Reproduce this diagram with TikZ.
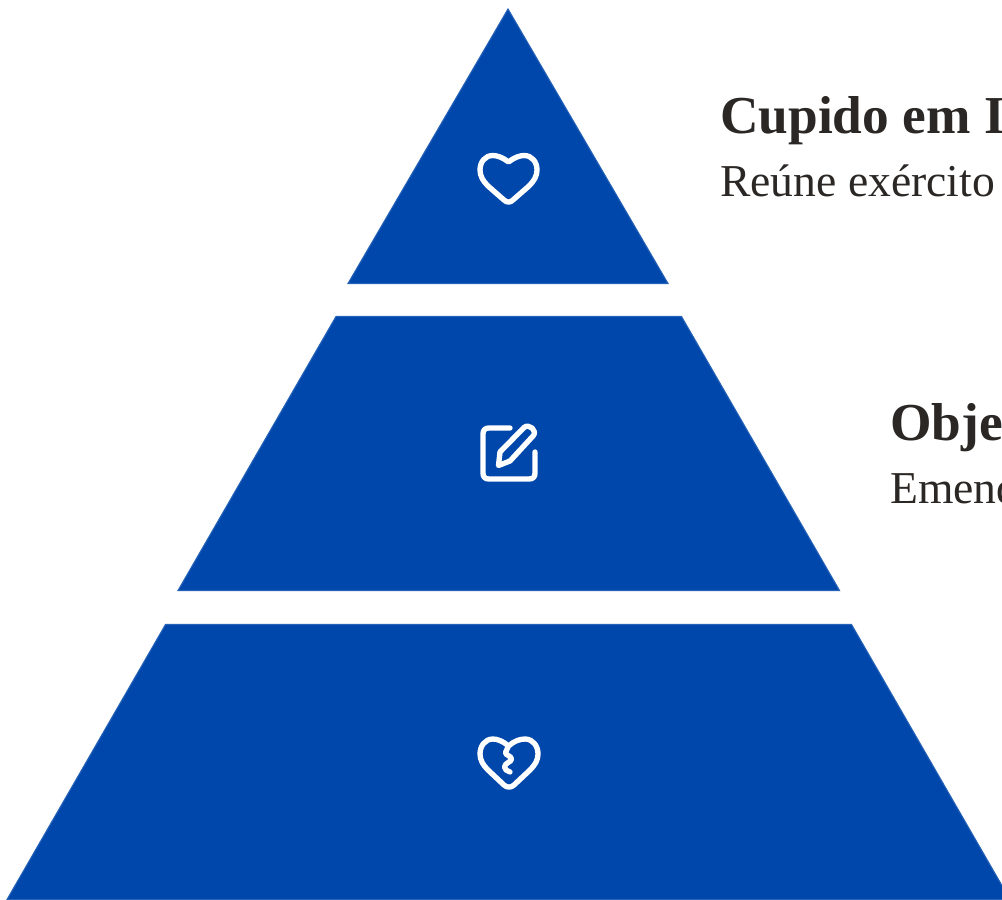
\documentclass[tikz,border=0pt]{standalone}
\usepackage{fontspec}
\setmainfont{Liberation Serif}
\definecolor{cobalt}{HTML}{0047AB}
\definecolor{ink}{HTML}{2B2725}
\tikzset{
  tier/.style={fill=cobalt,draw=cobalt!85!white,line width=0.8pt,line join=miter},
  icon/.style={draw=white,line width=4pt,line cap=round,line join=round},
  headtext/.style={anchor=base west,inner sep=0pt,text=ink,font=\bfseries\fontsize{40}{40}\selectfont},
  bodytext/.style={anchor=base west,inner sep=0pt,text=ink,font=\fontsize{34.2}{35}\selectfont},
}
\begin{document}
\begin{tikzpicture}[x=0.75pt,y=-0.75pt]
\useasboundingbox (0,0) rectangle (1002,899);
\clip (0,0) rectangle (1002,899);
\fill[white] (0,0) rectangle (1002,899);
\draw[tier] (508,9) -- (668,283.5) -- (348,283.5) -- cycle;
\draw[tier] (336,316.5) -- (681.5,316.5) -- (839.5,590.5) -- (178,590.5) -- cycle;
\draw[tier] (165.5,624.5) -- (851.5,624.5) -- (1010,899.5) -- (7,899.5) -- cycle;
% heart
\draw[icon] (508.5,162) .. controls (503,157.5) and (497,155.5) .. (493,155.5)
  .. controls (485,155.5) and (480,162) .. (480,170)
  .. controls (480,176) and (483,181) .. (488,186)
  -- (504,200) .. controls (507,202.8) and (510,202.8) .. (513,200)
  -- (529,186) .. controls (534,181) and (537,176) .. (537,170)
  .. controls (537,162) and (532,155.5) .. (524,155.5)
  .. controls (520,155.5) and (514,157.5) .. (508.5,162) -- cycle;
% note and pencil
\draw[icon] (510,428) -- (489,428) .. controls (485,428) and (483,430) .. (483,434)
  -- (483,473) .. controls (483,477) and (485,479) .. (489,479)
  -- (529,479) .. controls (533,479) and (535,477) .. (535,473) -- (535,452);
\draw[icon] (498.5,465.5) -- (500,452) -- (524,427.5)
  .. controls (529,423) and (538,431) .. (533,436) -- (510,461) -- cycle;
% broken heart
\draw[icon] (508.5,746) .. controls (503,741) and (497,739) .. (493,739)
  .. controls (485,739) and (480,746) .. (480,754)
  .. controls (480,760) and (483,765) .. (488,770)
  -- (504,785) .. controls (507,787.8) and (511,787.8) .. (514,785)
  -- (530,770) .. controls (535,765) and (538,760) .. (538,754)
  .. controls (538,746) and (533,739) .. (525,739)
  .. controls (520,739) and (514,741) .. (508.5,746)
  -- (505.5,752.5) .. controls (505,755) and (511.5,756) .. (511.5,759)
  .. controls (511.5,762) and (504.5,763) .. (504.5,767)
  .. controls (504.5,769.5) and (507,771) .. (510,772);
\node[headtext] (t1) at (720,133) {Cupido em I};
\node[bodytext] (b1) at (720,196) {Reúne exército};
\node[headtext] (t2) at (890,440) {Objet};
\node[bodytext] (b2) at (890,503) {Emend};
\end{tikzpicture}
\end{document}
